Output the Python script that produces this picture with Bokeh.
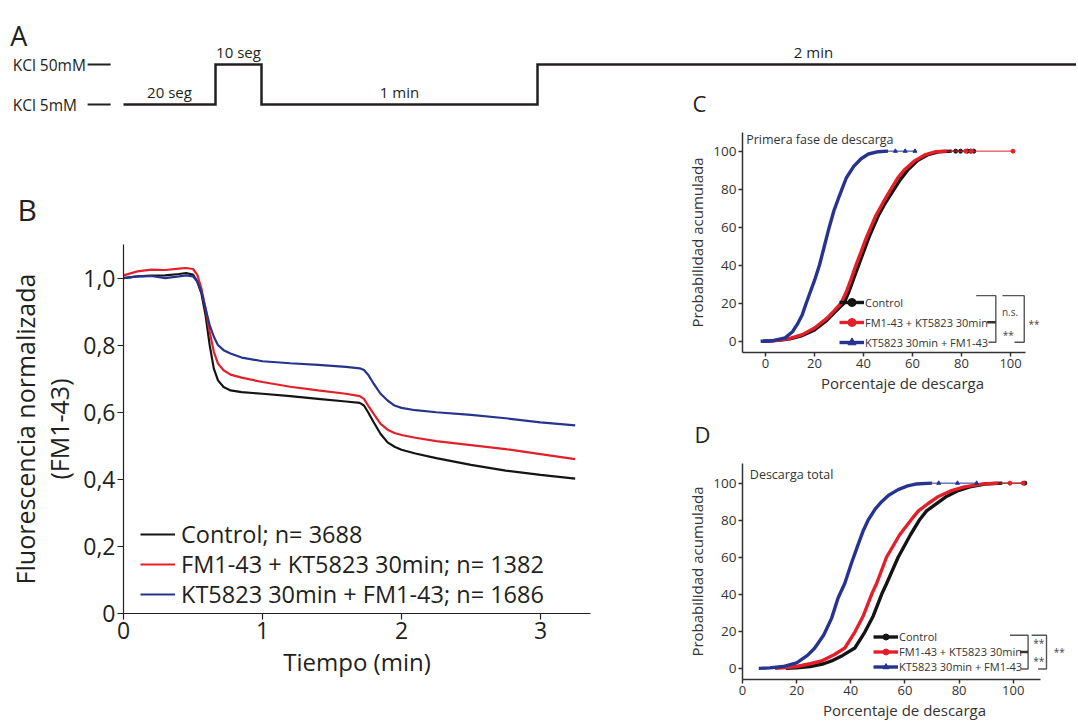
import numpy as np
from bokeh.plotting import figure
from bokeh.layouts import column, row
from bokeh.models import Label, Legend, LegendItem, FixedTicker, Range1d
from bokeh.core.properties import value
from bokeh.embed import file_html
from bokeh.resources import INLINE

FONT = "Open Sans"
INK = "#231f20"
GREY = "#333333"
COL_CONTROL = "#141414"
COL_FMKT = "#e3202a"
COL_KTFM = "#26348f"

# ---------------- Panel A: stimulation protocol ----------------
phase_durations_s = [20, 10, 60, 120]
phase_levels = [0, 1, 0, 1]
phase_labels = ["20 seg", "10 seg", "1 min", "2 min"]
level_ticks = [0, 1]
level_names = ["KCl 5mM", "KCl 50mM"]

# ---------------- Panel B: normalized fluorescence ----------------
b_time_min = [0, 0.1, 0.2, 0.3, 0.4, 0.45, 0.5, 0.53, 0.56, 0.59, 0.62, 0.65, 0.68, 0.72,
              0.77, 0.85, 1.0, 1.2, 1.4, 1.6, 1.7, 1.73, 1.76, 1.8, 1.85, 1.9, 1.95, 2.0,
              2.1, 2.25, 2.5, 2.75, 3.0, 3.25]
b_control = [1.0, 1.005, 1.007, 1.008, 1.012, 1.015, 1.01, 0.99, 0.955, 0.89, 0.80, 0.73, 0.695, 0.675,
             0.665, 0.66, 0.655, 0.648, 0.64, 0.632, 0.628, 0.62, 0.60, 0.57, 0.535, 0.51, 0.497, 0.488,
             0.477, 0.463, 0.443, 0.426, 0.413, 0.402]
b_fm_kt = [1.008, 1.02, 1.025, 1.024, 1.028, 1.03, 1.027, 1.01, 0.97, 0.91, 0.84, 0.78, 0.745, 0.725,
           0.712, 0.703, 0.69, 0.676, 0.665, 0.655, 0.648, 0.64, 0.62, 0.595, 0.565, 0.548, 0.538, 0.532,
           0.524, 0.514, 0.502, 0.49, 0.475, 0.46]
b_kt_fm = [1.0, 1.005, 1.006, 1.0, 1.005, 1.008, 1.005, 0.99, 0.96, 0.91, 0.86, 0.825, 0.80, 0.785,
           0.775, 0.763, 0.752, 0.746, 0.741, 0.735, 0.731, 0.726, 0.712, 0.685, 0.655, 0.635, 0.62, 0.613,
           0.606, 0.60, 0.592, 0.582, 0.57, 0.561]
b_series_names = ["Control; n= 3688", "FM1-43 + KT5823 30min; n= 1382", "KT5823 30min + FM1-43; n= 1686"]
b_x_ticks = [0, 1, 2, 3]
b_y_ticks = [0, 0.2, 0.4, 0.6, 0.8, 1.0]
b_y_tick_labels = ["0", "0,2", "0,4", "0,6", "0,8", "1,0"]

# ---------------- Panel C: first phase of release (CDF) ----------------
cdf_names = ["Control", "FM1-43 + KT5823 30min", "KT5823 30min + FM1-43"]
c_control_x = [-1, 2, 6, 10, 15, 20, 25, 28, 32, 34, 36, 38, 40, 42, 44, 46, 49, 52.5, 55, 58, 62, 66, 71, 76]
c_control_y = [0, 0.2, 0.6, 1.3, 3, 6, 11, 15, 20, 26, 33, 40, 47, 54, 60, 66, 73, 80, 85, 90, 95, 98, 99.7, 100]
c_control_tail = [77.6, 79.6, 82.4, 83.7, 85]
c_fmkt_x = [0, 5, 10, 15, 20, 25, 28, 30.8, 33, 35, 36.9, 39, 41, 43, 45, 48, 51.2, 54, 56.6, 61, 65, 69.5, 74]
c_fmkt_y = [0, 0.5, 1.5, 3.5, 7, 12, 16, 20, 26, 33, 40, 47, 54, 60, 66, 73, 80, 86, 90, 95, 98, 99.7, 100]
c_fmkt_tail = [81.7, 84, 101]
c_ktfm_x = [-2, 3, 8, 11, 13, 15, 16.6, 18, 20, 22, 24, 26, 28, 30, 31.2, 33, 36, 39, 42, 46, 50]
c_ktfm_y = [0, 0.3, 1.8, 5, 9, 14, 20, 25, 32, 40, 50, 60, 69, 76, 80, 86, 92, 96, 98.5, 99.7, 100]
c_ktfm_tail = [53, 57, 61]
c_brackets_x = [[86, 94, 94, 91], [90.5, 94], [96.7, 105.6, 105.6, 101.6]]
c_brackets_y = [[24, 24, -0.5, -0.5], [10, 10], [24, 24, -0.5, -0.5]]
c_stats = ["n.s.", "**", "**"]
c_stats_x = [96.5, 96.8, 107.3]
c_stats_y = [15.3, 3.5, 9.3]

# ---------------- Panel D: total release (CDF) ----------------
d_control_x = [16, 20, 25, 30, 32.9, 37, 41.5, 45.2, 48.3, 51.4, 53.2, 57.5, 62, 65.5, 68, 71.7, 75, 79.7, 84, 89.5, 96]
d_control_y = [0, 0.3, 1, 2.5, 4, 7, 11, 19.6, 28.3, 40, 45.7, 60, 72, 80.4, 85, 89, 92.5, 96, 98, 99.5, 100]
d_control_tail = [104.3]
d_fmkt_x = [12, 16, 20, 25, 29.2, 34, 37.8, 41.5, 44.6, 47.7, 49.5, 53.2, 58, 62.4, 65, 68.6, 72, 77.2, 82, 88.3, 94.5]
d_fmkt_y = [0, 0.5, 1, 2.5, 4, 7.5, 11, 19.6, 28.3, 40, 45.7, 60, 72, 80.4, 85, 89, 92.5, 96, 98, 99.5, 100]
d_fmkt_tail = [98.8, 103.7]
d_ktfm_x = [6, 10, 15, 20, 24, 26.7, 30, 32.9, 35.3, 37.8, 40.3, 42.5, 44.5, 46.4, 49, 51.4, 54, 57.5, 61, 64, 70]
d_ktfm_y = [0, 0.3, 1, 3, 7, 11, 18, 27, 38, 46, 57, 66, 74, 80, 86, 90, 93.5, 96.5, 98.5, 99.5, 100]
d_ktfm_tail = [72.5, 79.4, 86.5]
d_brackets_x = [[98.8, 105.5, 105.5, 103], [102.5, 105.5], [106.8, 112.3, 112.3, 109.2]]
d_brackets_y = [[17.9, 17.9, -0.3, -0.3], [8.9, 8.9], [17.9, 17.9, -0.3, -0.3]]
d_stats = ["**", "**", "**"]
d_stats_x = [107.4, 107.4, 115.0]
d_stats_y = [13.5, 4.0, 8.9]

cdf_ticks = [0, 20, 40, 60, 80, 100]


def base_fig(**kw):
    p = figure(output_backend="svg", toolbar_location=None, **kw)
    p.grid.visible = False
    p.outline_line_color = None
    p.background_fill_color = "white"
    p.border_fill_color = "white"
    return p


def style_axis(ax, font_size, label_size, color, tick_out=5, width=1.2):
    ax.axis_line_color = color
    ax.axis_line_width = width
    ax.major_tick_line_color = color
    ax.major_tick_line_width = width
    ax.major_tick_out = tick_out
    ax.major_tick_in = 0
    ax.minor_tick_line_color = None
    ax.major_label_text_font = FONT
    ax.major_label_text_font_size = font_size
    ax.major_label_text_color = color
    ax.major_label_standoff = 2
    ax.axis_label_text_font = FONT
    ax.axis_label_text_font_size = label_size
    ax.axis_label_text_font_style = "normal"
    ax.axis_label_text_color = color
    ax.axis_label_standoff = 3


def panel_letter(p, text, offset, standoff, size):
    p.title.text = text
    p.title.align = "left"
    p.title.offset = offset
    p.title.standoff = standoff
    p.title.text_font = FONT
    p.title.text_font_size = size
    p.title.text_font_style = "normal"
    p.title.text_color = INK


# ================= Panel A =================
pa = base_fig(width=1076, height=118, min_border=0,
              x_range=Range1d(-26.74, 207.17), y_range=Range1d(-0.35, 2.6),
              x_axis_type=None, y_axis_type=None)
edges = np.concatenate([[0], np.cumsum(phase_durations_s)])
step_x, step_y = [], []
for i, lev in enumerate(phase_levels):
    step_x += [edges[i], edges[i + 1]]
    step_y += [lev, lev]
pa.line(step_x, step_y, line_color=INK, line_width=2.5, line_join="miter")
for i, (lab, lev) in enumerate(zip(phase_labels, phase_levels)):
    pa.add_layout(Label(x=(edges[i] + edges[i + 1]) / 2, y=lev, text=lab, text_font=FONT,
                        text_font_size="15px", text_color=INK, text_align="center",
                        text_baseline="bottom", y_offset=3))
# level names with short tick dashes (left of the protocol trace)
pa.segment(x0=[-7.8] * len(level_ticks), y0=level_ticks, x1=[-2.8] * len(level_ticks), y1=level_ticks,
           line_color=INK, line_width=2)
for t, n in zip(level_ticks, level_names):
    pa.add_layout(Label(x=-24.1, y=t, text=n, text_font=FONT, text_font_size="15.5px",
                        text_color=INK, text_align="left", text_baseline="middle"))
pa.add_layout(Label(x=-24.6, y=1.275, text="A", text_font=FONT, text_font_size="27px",
                    text_color=INK, text_baseline="bottom"))
pa.add_layout(Label(x=123.7, y=-0.33, text="C", text_font=FONT, text_font_size="22px",
                    text_color=INK, text_baseline="bottom"))

# ================= Panel B =================
pb = base_fig(frame_width=467, frame_height=369, min_border_left=123, min_border_right=58,
              min_border_top=126, min_border_bottom=107,
              x_range=Range1d(0, 3.36), y_range=Range1d(0, 1.1))
legend_row_bottoms = [63, 33, 3]
for vals, col, name, lb in zip([b_control, b_fm_kt, b_kt_fm], [COL_CONTROL, COL_FMKT, COL_KTFM],
                               b_series_names, legend_row_bottoms):
    r = pb.line(b_time_min, vals, line_color=col, line_width=2.2)
    leg = Legend(items=[LegendItem(label=name, renderers=[r])], location=(17, lb),
                 glyph_width=35, glyph_height=30, label_height=30,
                 label_standoff=6, spacing=0, padding=0, margin=0, border_line_color=None,
                 background_fill_alpha=0, label_text_font=FONT, label_text_font_size="23.5px",
                 label_text_color=INK)
    pb.add_layout(leg)
xb, yb = pb.xaxis[0], pb.yaxis[0]
xb.ticker = FixedTicker(ticks=b_x_ticks)
yb.ticker = FixedTicker(ticks=b_y_ticks)
yb.major_label_overrides = {t: s for t, s in zip(b_y_ticks, b_y_tick_labels)}
style_axis(xb, "23px", "24px", INK, tick_out=6)
style_axis(yb, "23px", "25px", INK, tick_out=6)
xb.axis_label = "Tiempo (min)"
yb.axis_label = "Fluorescencia normalizada\n(FM1-43)"
yb.axis_label_text_line_height = 1.0
yb.axis_label_standoff = 4
panel_letter(pb, "B", -106, 30, "30px")


# ================= Panels C and D =================
def cdf_panel(series, brackets, stats, subtitle, sub_xy, legend_loc, row_h, x_range, x_bounds,
              y_range, frame_w, frame_h, borders):
    p = base_fig(frame_width=frame_w, frame_height=frame_h, min_border_left=borders[0],
                 min_border_right=borders[1], min_border_top=borders[2], min_border_bottom=borders[3],
                 x_range=Range1d(*x_range), y_range=Range1d(*y_range))
    its = []
    for (xs, ys, tail, col, mk, name) in series:
        r = p.line(xs, ys, line_color=col, line_width=3.4)
        p.line([xs[-1]] + tail, [ys[-1]] * (len(tail) + 1), line_color=col, line_width=1)
        s = p.scatter(tail, [ys[-1]] * len(tail), marker=mk, size=4, fill_color=col, line_color=col)
        its.append(LegendItem(label=name, renderers=[r, s]))
    lg = Legend(items=its, location=legend_loc, glyph_width=25, glyph_height=row_h, label_height=row_h,
                label_standoff=1, spacing=0, padding=0, margin=0, border_line_color=None,
                background_fill_alpha=0, label_text_font=FONT, label_text_font_size="11px",
                label_text_color=GREY)
    p.add_layout(lg)
    bx, by = brackets
    p.multi_line(bx, by, line_color="#555555", line_width=1.4)
    p.multi_line([bx[1]], [by[1]], line_color="#333333", line_width=2.5)
    sl, sx, sy = stats
    p.text(sx, sy, text=sl, text_font=value(FONT), text_font_size="10px", text_color="#444444",
           text_align="left", text_baseline="middle")
    p.add_layout(Label(x=sub_xy[0], y=sub_xy[1], text=subtitle, text_font=FONT,
                       text_font_size="12.5px", text_color=GREY, text_baseline="middle"))
    xa, yax = p.xaxis[0], p.yaxis[0]
    xa.ticker = FixedTicker(ticks=cdf_ticks)
    yax.ticker = FixedTicker(ticks=cdf_ticks)
    xa.bounds = x_bounds
    style_axis(xa, "13px", "15px", GREY, tick_out=4, width=1.5)
    style_axis(yax, "13.5px", "15px", GREY, tick_out=4, width=1.5)
    xa.axis_label = "Porcentaje de descarga"
    yax.axis_label = "Probabilidad acumulada"
    xa.axis_label_standoff = 2
    return p


pc = cdf_panel(
    [(c_control_x, c_control_y, c_control_tail, COL_CONTROL, "circle", cdf_names[0]),
     (c_fmkt_x, c_fmkt_y, c_fmkt_tail, COL_FMKT, "circle", cdf_names[1]),
     (c_ktfm_x, c_ktfm_y, c_ktfm_tail, COL_KTFM, "triangle", cdf_names[2])],
    (c_brackets_x, c_brackets_y), (c_stats, c_stats_x, c_stats_y),
    "Primera fase de descarga", (-7.9, 106), (97, 0), 20,
    (-9.4, -9.4 + 320 / 2.45), (-9.4, 106), (-5.9, 109.8), 320, 220, (92, 16, 14, 42))

pd_ = cdf_panel(
    [(d_control_x, d_control_y, d_control_tail, COL_CONTROL, "circle", cdf_names[0]),
     (d_fmkt_x, d_fmkt_y, d_fmkt_tail, COL_FMKT, "circle", cdf_names[1]),
     (d_ktfm_x, d_ktfm_y, d_ktfm_tail, COL_KTFM, "triangle", cdf_names[2])],
    (d_brackets_x, d_brackets_y), (d_stats, d_stats_x, d_stats_y),
    "Descarga total", (2.7, 104.5), (131, 5), 15,
    (0, 324 / 2.707), (0, 110), (-6, 110.6), 324, 216, (94, 10, 68, 42))
panel_letter(pd_, "D", -48, 30, "22px")

layout = column(pa, row(pb, column(pc, pd_)))
open("out.html", "w").write(file_html(layout, INLINE))
